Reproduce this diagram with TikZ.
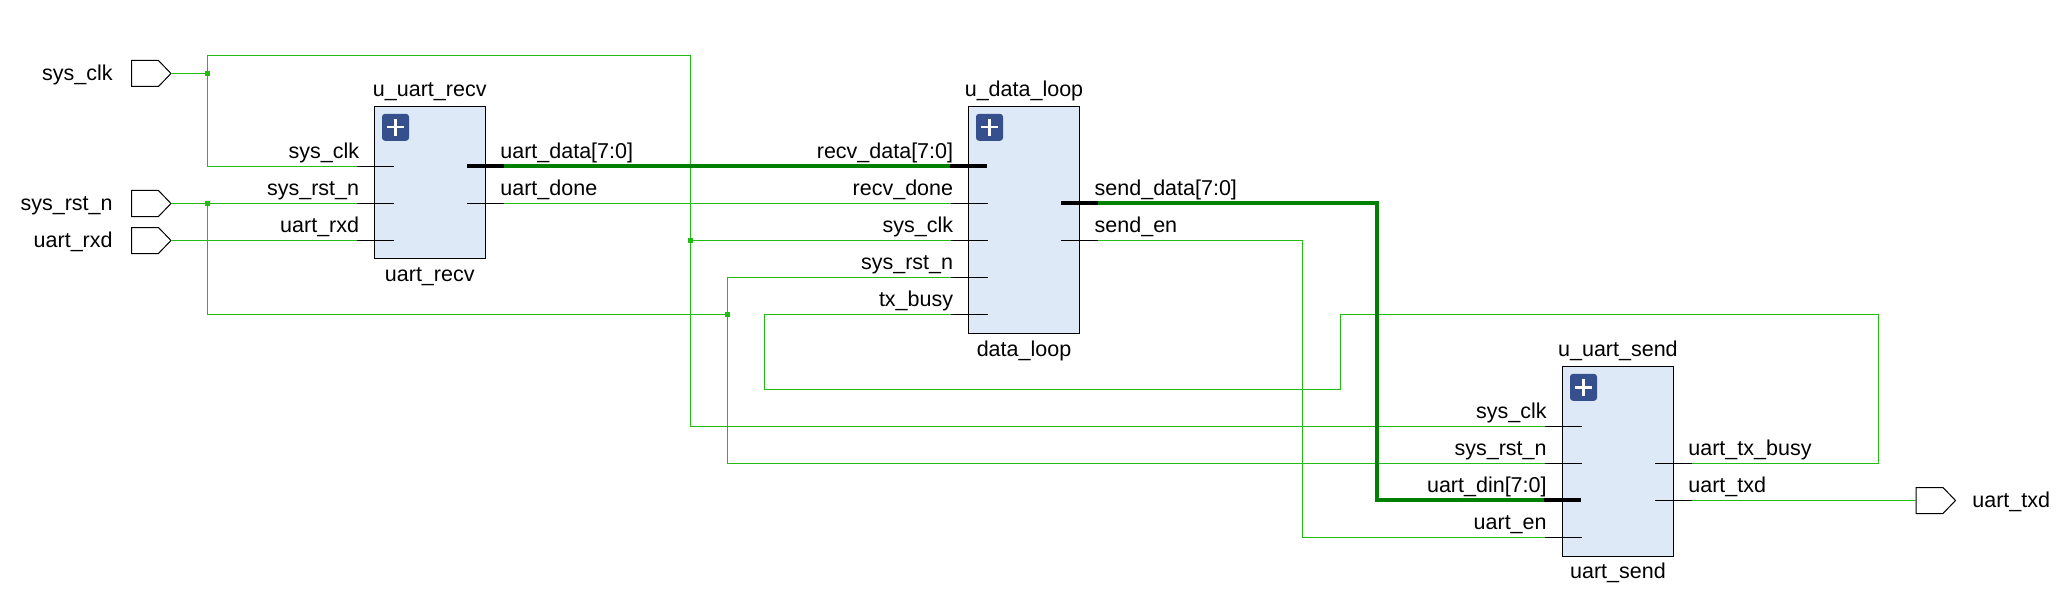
\documentclass[tikz,border=0pt]{standalone}
\usepackage{fontspec}
\setmainfont{Liberation Sans}
\usetikzlibrary{calc,shapes.symbols}
\definecolor{netgreen}{HTML}{22BB11}
\definecolor{busgreen}{HTML}{008000}
\definecolor{blockblue}{HTML}{DEE9F8}
\definecolor{plusblue}{HTML}{35508C}
\tikzset{
  net/.style={netgreen,line width=0.6pt},
  bus/.style={busgreen,line width=2pt},
  stub/.style={black,line width=0.5pt},
  busstub/.style={black,line width=2.2pt},
  block/.style={draw=black,line width=0.6pt,fill=blockblue,inner sep=0pt},
  plusbox/.style={fill=plusblue,rounded corners=1.5pt,inner sep=0pt,minimum size=13.5pt},
  port/.style={signal,signal to=east,draw=black,fill=white,line width=0.5pt,inner sep=0pt,anchor=west,
    minimum width=19.75pt,minimum height=13pt,signal pointer angle=92},
  junction/.style={fill=netgreen,inner sep=0pt,minimum size=2.5pt},
  txt/.style={inner sep=0pt,font=\fontsize{10.75}{13}\selectfont},
}
\begin{document}
\begin{tikzpicture}[x=0.5pt,y=-0.5pt]
  \useasboundingbox (0,0) rectangle (2068,615);
  % top level ports
  \node[port](sys_clk)at(131,73.5){};
  \node[port](sys_rst_n)at(131,203.5){};
  \node[port](uart_rxd)at(131,240.5){};
  \node[port](uart_txd)at(1915.5,500.5){};
  \node[txt,anchor=base east](sys_clk_t)at(113,80.5){sys\_clk};
  \node[txt,anchor=base east](sys_rst_n_t)at(113,210.5){sys\_rst\_n};
  \node[txt,anchor=base east](uart_rxd_t)at(113,247.5){uart\_rxd};
  \node[txt,anchor=base west](uart_txd_t)at(1972,507.5){uart\_txd};
  % pin ends, left and right of each block
  \coordinate (r1a)at(357,166.5); \coordinate (r1b)at(394,166.5);
  \coordinate (r2a)at(357,203.5); \coordinate (r2b)at(394,203.5);
  \coordinate (r3a)at(357,240.5); \coordinate (r3b)at(394,240.5);
  \coordinate (r4a)at(467,166); \coordinate (r4b)at(504,166);
  \coordinate (r5a)at(467,203.5); \coordinate (r5b)at(504,203.5);
  \coordinate (d1a)at(950,166); \coordinate (d1b)at(987,166);
  \coordinate (d2a)at(951,203.5); \coordinate (d2b)at(988,203.5);
  \coordinate (d3a)at(951,240.5); \coordinate (d3b)at(988,240.5);
  \coordinate (d4a)at(951,277.5); \coordinate (d4b)at(988,277.5);
  \coordinate (d5a)at(951,314.5); \coordinate (d5b)at(988,314.5);
  \coordinate (d6a)at(1061,203); \coordinate (d6b)at(1098,203);
  \coordinate (d7a)at(1061,240.5); \coordinate (d7b)at(1098,240.5);
  \coordinate (s1a)at(1545,426.5); \coordinate (s1b)at(1582,426.5);
  \coordinate (s2a)at(1545,463.5); \coordinate (s2b)at(1582,463.5);
  \coordinate (s3a)at(1544,500); \coordinate (s3b)at(1581,500);
  \coordinate (s4a)at(1545,537.5); \coordinate (s4b)at(1582,537.5);
  \coordinate (s5a)at(1655,463.5); \coordinate (s5b)at(1692,463.5);
  \coordinate (s6a)at(1655,500.5); \coordinate (s6b)at(1692,500.5);
  % junction dots
  \node[junction](j1)at(207.5,73.5){};
  \node[junction](j2)at(207.5,203.5){};
  \node[junction](j3)at(690.5,240.5){};
  \node[junction](j4)at(727.5,314.5){};
  % nets
  \draw[net](sys_clk.east)--(j1.center);
  \draw[net](j1.center)--(207.5,166.5)--(r1a);
  \draw[net](j1.center)--(207.5,55.5)--(690.5,55.5)--(j3.center);
  \draw[net](j3.center)--(d3a);
  \draw[net](j3.center)--(690.5,426.5)--(s1a);
  \draw[net](sys_rst_n.east)--(j2.center)--(r2a);
  \draw[net](j2.center)--(207.5,314.5)--(j4.center);
  \draw[net](j4.center)--(727.5,277.5)--(d4a);
  \draw[net](j4.center)--(727.5,463.5)--(s2a);
  \draw[net](uart_rxd.east)--(r3a);
  \draw[net](r5b)--(d2a);
  \draw[net](s5b)--(1878.5,463.5)--(1878.5,314.5)--(1340.5,314.5)--(1340.5,389.5)--(764.5,389.5)--(764.5,314.5)--(d5a);
  \draw[net](d7b)--(1302.5,240.5)--(1302.5,537.5)--(s4a);
  \draw[net](s6b)--(uart_txd.west);
  \draw[bus](r4b)--(d1a);
  \draw[bus](d6b)--(1377,203)--(1377,500)--(s3a);
  % blocks
  \node[block,minimum width=55.5pt,minimum height=76pt](uart_recv)at(430,182.5){};
  \node[block,minimum width=55.75pt,minimum height=113.5pt](data_loop)at(1024,220){};
  \node[block,minimum width=55.5pt,minimum height=95.2pt](uart_send)at(1617.9,461.5){};
  \node[plusbox](plus_r)at(395.5,127.3){};
  \node[plusbox](plus_d)at(989.5,127.3){};
  \node[plusbox](plus_s)at(1583.5,387.3){};
  \draw[white,line width=1.2pt](395.5,119)--(395.5,135.6) (387.2,127.3)--(403.8,127.3);
  \draw[white,line width=1.2pt](989.5,119)--(989.5,135.6) (981.2,127.3)--(997.8,127.3);
  \draw[white,line width=1.2pt](1583.5,379)--(1583.5,395.6) (1575.2,387.3)--(1591.8,387.3);
  % pin stubs
  \draw[stub](r1a)--(r1b); \draw[stub](r2a)--(r2b); \draw[stub](r3a)--(r3b);
  \draw[stub](r5a)--(r5b); \draw[busstub](r4a)--(r4b);
  \draw[busstub](d1a)--(d1b); \draw[stub](d2a)--(d2b); \draw[stub](d3a)--(d3b);
  \draw[stub](d4a)--(d4b); \draw[stub](d5a)--(d5b);
  \draw[busstub](d6a)--(d6b); \draw[stub](d7a)--(d7b);
  \draw[stub](s1a)--(s1b); \draw[stub](s2a)--(s2b); \draw[busstub](s3a)--(s3b);
  \draw[stub](s4a)--(s4b); \draw[stub](s5a)--(s5b); \draw[stub](s6a)--(s6b);
  % block names
  \node[txt,anchor=base](uart_recv_u)at(429.75,96.5){u\_uart\_recv};
  \node[txt,anchor=base](uart_recv_n)at(429.75,281){uart\_recv};
  \node[txt,anchor=base](data_loop_u)at(1024,96.5){u\_data\_loop};
  \node[txt,anchor=base](data_loop_n)at(1024,356){data\_loop};
  \node[txt,anchor=base](uart_send_u)at(1617.9,356.5){u\_uart\_send};
  \node[txt,anchor=base](uart_send_n)at(1617.9,578){uart\_send};
  % pin names
  \node[txt,anchor=base east](l1)at(359.5,158.5){sys\_clk};
  \node[txt,anchor=base east](l2)at(359.5,195.5){sys\_rst\_n};
  \node[txt,anchor=base east](l3)at(359.5,232.5){uart\_rxd};
  \node[txt,anchor=base west](l4)at(500,158.5){uart\_data[7:0]};
  \node[txt,anchor=base west](l5)at(500,195.5){uart\_done};
  \node[txt,anchor=base east](l6)at(953.5,158.5){recv\_data[7:0]};
  \node[txt,anchor=base east](l7)at(953.5,195.5){recv\_done};
  \node[txt,anchor=base east](l8)at(953.5,232.5){sys\_clk};
  \node[txt,anchor=base east](l9)at(953.5,269.5){sys\_rst\_n};
  \node[txt,anchor=base east](l10)at(953.5,306.5){tx\_busy};
  \node[txt,anchor=base west](l11)at(1094.3,195.5){send\_data[7:0]};
  \node[txt,anchor=base west](l12)at(1094.3,232.5){send\_en};
  \node[txt,anchor=base east](l13)at(1547,418.5){sys\_clk};
  \node[txt,anchor=base east](l14)at(1547,455.5){sys\_rst\_n};
  \node[txt,anchor=base east](l15)at(1547,492.5){uart\_din[7:0]};
  \node[txt,anchor=base east](l16)at(1547,529.5){uart\_en};
  \node[txt,anchor=base west](l17)at(1688,455.5){uart\_tx\_busy};
  \node[txt,anchor=base west](l18)at(1688,492.5){uart\_txd};
\end{tikzpicture}
\end{document}
